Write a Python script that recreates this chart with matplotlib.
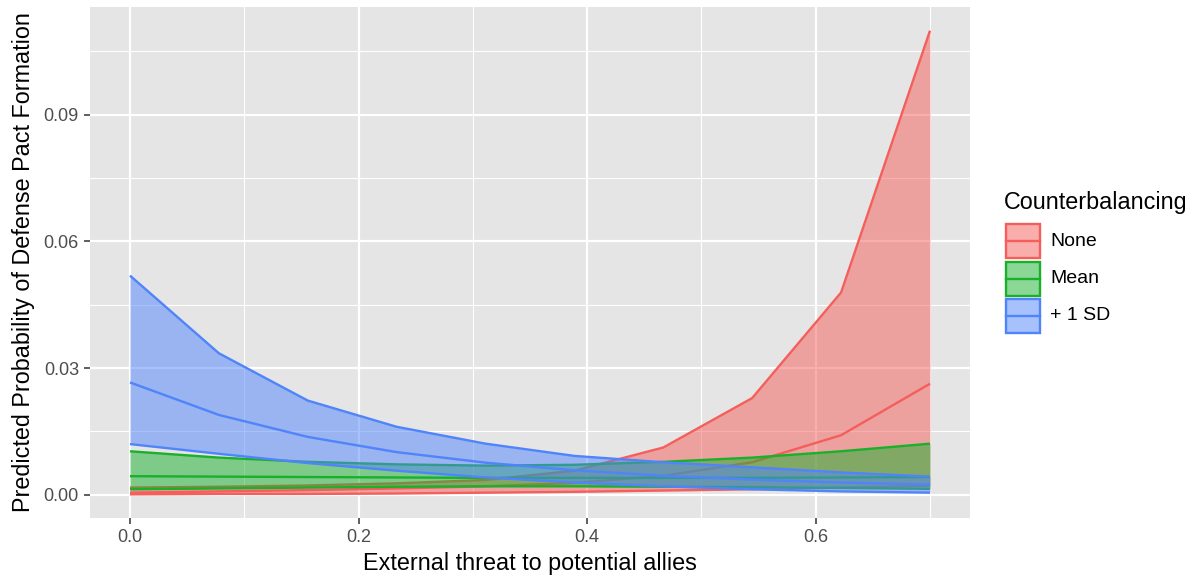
import matplotlib
matplotlib.use("Agg")
import matplotlib.pyplot as plt
from matplotlib.patches import Rectangle
from matplotlib.lines import Line2D
from matplotlib.colors import to_rgba

plt.rcParams['font.family'] = ['Liberation Sans', 'DejaVu Sans']

# ---- data ----
threat = [0.0, 0.0778, 0.1556, 0.2333, 0.3111, 0.3889, 0.4667, 0.5444, 0.6222, 0.7]

none_mean = [0.0005, 0.0008, 0.0011, 0.0015, 0.0020, 0.0028, 0.0045, 0.0077, 0.0141, 0.0263]
none_lo = [0.0001, 0.0002, 0.0002, 0.0003, 0.0005, 0.0007, 0.0010, 0.0013, 0.0017, 0.0021]
none_hi = [0.0017, 0.0019, 0.0022, 0.0027, 0.0035, 0.0057, 0.0112, 0.0229, 0.0479, 0.1099]

mean_mean = [0.0044, 0.0043, 0.0042, 0.0041, 0.0040, 0.0040, 0.0040, 0.0040, 0.0041, 0.0042]
mean_lo = [0.0013, 0.0015, 0.0017, 0.0019, 0.0020, 0.0020, 0.0019, 0.0018, 0.0016, 0.0014]
mean_hi = [0.0103, 0.0088, 0.0078, 0.0072, 0.0069, 0.0071, 0.0078, 0.0088, 0.0103, 0.0121]

sd_mean = [0.0266, 0.0189, 0.0137, 0.0101, 0.0076, 0.0058, 0.0045, 0.0036, 0.0029, 0.0024]
sd_lo = [0.0120, 0.0097, 0.0075, 0.0057, 0.0041, 0.0029, 0.0020, 0.0013, 0.0008, 0.0005]
sd_hi = [0.0519, 0.0335, 0.0223, 0.0161, 0.0121, 0.0092, 0.0077, 0.0065, 0.0053, 0.0043]

legend_title = "Counterbalancing"
group_labels = ["None", "Mean", "+ 1 SD"]
group_colors = ["#F45E5B", "#19B02C", "#4F84FB"]

x_ticks = [0.0, 0.2, 0.4, 0.6]
x_tick_labels = ["0.0", "0.2", "0.4", "0.6"]
y_ticks = [0.0, 0.03, 0.06, 0.09]
y_tick_labels = ["0.00", "0.03", "0.06", "0.09"]

series = [(none_mean, none_lo, none_hi), (mean_mean, mean_lo, mean_hi), (sd_mean, sd_lo, sd_hi)]

# ---- figure ----
W, H = 1193, 575
fig = plt.figure(figsize=(W / 100, H / 100), dpi=100)
ax = fig.add_axes([90/W, 1-518/H, (970-90)/W, (518-7)/H])
ax.set_facecolor("#E5E5E5")

ax.set_xlim(-0.035, 0.735)
ax.set_ylim(-0.0055, 0.1155)

for v in [0.1, 0.3, 0.5, 0.7]:
    ax.axvline(v, color="white", lw=0.8, zorder=0)
for v in [0.015, 0.045, 0.075, 0.105]:
    ax.axhline(v, color="white", lw=0.8, zorder=0)
for v in x_ticks:
    ax.axvline(v, color="white", lw=1.6, zorder=0)
for v in y_ticks:
    ax.axhline(v, color="white", lw=1.6, zorder=0)

z = 1
for (m, lo, hi), col in zip(series, group_colors):
    ax.fill_between(threat, lo, hi, color=col, alpha=0.5, lw=0, zorder=z)
    for s in (lo, m, hi):
        ax.plot(threat, s, color=col, lw=1.7, zorder=z + 0.5, solid_capstyle="butt")
    z += 1

for sp in ax.spines.values():
    sp.set_visible(False)

ax.set_xticks(x_ticks)
ax.set_xticklabels(x_tick_labels)
ax.set_yticks(y_ticks)
ax.set_yticklabels(y_tick_labels)
ax.tick_params(axis="both", colors="#333333", labelcolor="#4D4D4D", labelsize=13,
               length=4, width=1.1, pad=4)

ax.set_xlabel("External threat to potential allies", fontsize=16.8, color="black", labelpad=4)
ax.set_ylabel("Predicted Probability of Defense Pact Formation", fontsize=16.8, color="black", labelpad=6)

# ---- legend (ggplot style keys), positioned in figure pixels ----
def fx(px):
    return px / W

def fy(py):
    return 1 - py / H

fig.text(fx(1004), fy(203), legend_title, fontsize=16.8, va="center", ha="left")
key_left, key_w, key_h, pitch, first = 1006, 34, 34, 37.5, 241
for i, (lab, col) in enumerate(zip(group_labels, group_colors)):
    cy = first + i * pitch
    rect = Rectangle((fx(key_left), fy(cy + key_h / 2)), key_w / W, key_h / H,
                     transform=fig.transFigure, facecolor=to_rgba(col, 0.5),
                     edgecolor=col, lw=1.7)
    fig.add_artist(rect)
    fig.add_artist(Line2D([fx(key_left), fx(key_left + key_w)], [fy(cy), fy(cy)],
                          transform=fig.transFigure, color=col, lw=1.7))
    fig.text(fx(1050), fy(cy), lab, fontsize=14, va="center", ha="left")

fig.savefig("out.png", dpi=100)
